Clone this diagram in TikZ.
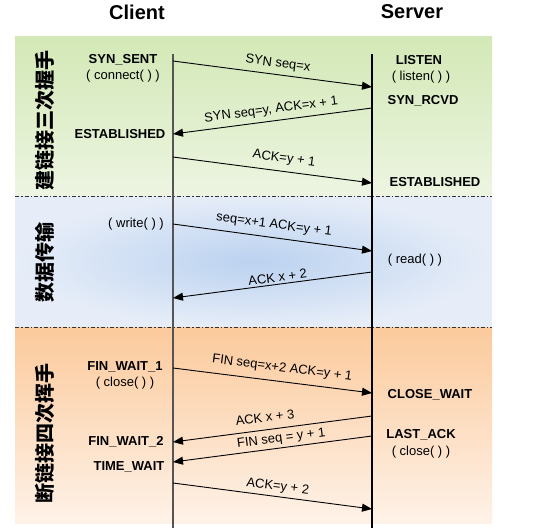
\documentclass[tikz,border=0pt]{standalone}
\usepackage{fontspec}
\setmainfont{Liberation Sans}
\newfontfamily\cjk{Noto Sans CJK SC}
\usetikzlibrary{arrows.meta}
\definecolor{grnA}{HTML}{D3E8B6}
\definecolor{grnB}{HTML}{EDF5E2}
\definecolor{bluA}{HTML}{BBD2F0}
\definecolor{bluB}{HTML}{E6EDF8}
\definecolor{orA}{HTML}{FBCA9C}
\definecolor{orB}{HTML}{FEF2E8}
\definecolor{lineC}{HTML}{555555}
\begin{document}
\begin{tikzpicture}[x=1pt,y=-1pt,
  headtxt/.style={font=\fontsize{20}{22}\selectfont\bfseries, inner sep=0pt},
  statetxt/.style={font=\fontsize{13}{15}\selectfont\bfseries, inner sep=0pt},
  calltxt/.style={font=\fontsize{13}{15}\selectfont, inner sep=0pt},
  msg/.style={draw=black, line width=0.9pt, -{Triangle[length=10pt,width=8pt]}},
  msglabel/.style={font=\fontsize{13}{15}\selectfont, anchor=base, inner sep=0pt},
  down/.style={rotate=-7.4},
  up/.style={rotate=7.4},
  phasetxt/.style={font=\fontsize{20}{22}\selectfont\cjk\bfseries, rotate=90, inner sep=0pt},
  sepline/.style={draw=black!80, line width=0.8pt, dash pattern=on 4pt off 2pt on 1.5pt off 2pt}]
\useasboundingbox (0,0) rectangle (542,528);

% bands
\shade[top color=grnA, bottom color=grnB] (15,36) rectangle (492,196);
\shade[inner color=bluA, outer color=bluB] (15,196) rectangle (492,327);
\shade[top color=orA, bottom color=orB] (15,327) rectangle (492,523);

% separators
\coordinate (d1L) at (15,196); \coordinate (d1R) at (492,196);
\coordinate (d2L) at (15,327); \coordinate (d2R) at (492,327);
\draw[sepline] (d1L) -- (d1R);
\draw[sepline] (d2L) -- (d2R);

% titles
\node[headtxt] (client) at (137,12) {Client};
\node[headtxt] (server) at (412,12) {Server};

% lifelines
\coordinate (cT) at (173,54); \coordinate (cB) at (173,528);
\coordinate (sT) at (372,54); \coordinate (sB) at (372,528);
\draw[lineC, line width=1.1pt] (cT) -- (cB);
\draw[black, line width=1.1pt] (sT) -- (sB);

% phase labels
\node[phasetxt] (ph1) at (45,120) {建链接三次握手};
\node[phasetxt] (ph2) at (45,262) {数据传输};
\node[phasetxt] (ph3) at (45,433) {断链接四次挥手};

% client states
\node[statetxt] (synsent) at (123,60) {SYN\_SENT};
\node[calltxt] (connect) at (123,76) {( connect( ) )};
\node[statetxt] (cestab) at (120,134) {ESTABLISHED};
\node[calltxt] (write) at (136,224) {( write( ) )};
\node[statetxt] (fw1) at (125,367) {FIN\_WAIT\_1};
\node[calltxt] (cclose) at (125,383) {( close( ) )};
\node[statetxt] (fw2) at (126,442) {FIN\_WAIT\_2};
\node[statetxt] (tw) at (129,467) {TIME\_WAIT};

% server states
\node[statetxt] (listen) at (419,60) {LISTEN};
\node[calltxt] (listenc) at (421,77) {( listen( ) )};
\node[statetxt] (synrcvd) at (423,101) {SYN\_RCVD};
\node[statetxt] (sestab) at (435,182) {ESTABLISHED};
\node[calltxt] (read) at (415,260) {( read( ) )};
\node[statetxt] (closewait) at (430,395) {CLOSE\_WAIT};
\node[statetxt] (lastack) at (421,435) {LAST\_ACK};
\node[calltxt] (sclose) at (421,452) {( close( ) )};

% message endpoints
\coordinate (c1) at (173,61);  \coordinate (s1) at (372,87);
\coordinate (s2) at (372,108); \coordinate (c2) at (173,134);
\coordinate (c3) at (173,157); \coordinate (s3) at (372,183);
\coordinate (c4) at (173,224); \coordinate (s4) at (372,251);
\coordinate (s5) at (372,272); \coordinate (c5) at (173,298);
\coordinate (c6) at (173,368); \coordinate (s6) at (372,393);
\coordinate (s7) at (372,416); \coordinate (c7) at (173,442);
\coordinate (s8) at (372,436); \coordinate (c8) at (173,462);
\coordinate (c9) at (173,483); \coordinate (s9) at (372,509);

% messages
\draw[msg] (c1) -- node[msglabel, down, yshift=7.6pt, pos=0.52] {SYN seq=x} (s1);
\draw[msg] (s2) -- node[msglabel, up, yshift=7.7pt, pos=0.5] {SYN seq=y, ACK=x + 1} (c2);
\draw[msg] (c3) -- node[msglabel, down, yshift=9.4pt, pos=0.55] {ACK=y + 1} (s3);
\draw[msg] (c4) -- node[msglabel, down, yshift=9.2pt, pos=0.5] {seq=x+1 ACK=y + 1} (s4);
\draw[msg] (s5) -- node[msglabel, up, yshift=2.6pt, pos=0.47] {ACK x + 2} (c5);
\draw[msg] (c6) -- node[msglabel, down, yshift=10pt, pos=0.54] {FIN seq=x+2 ACK=y + 1} (s6);
\draw[msg] (s7) -- node[msglabel, up, yshift=7.8pt, pos=0.53] {ACK x + 3} (c7);
\draw[msg] (s8) -- node[msglabel, up, yshift=5.8pt, pos=0.45] {FIN seq = y + 1} (c8);
\draw[msg] (c9) -- node[msglabel, down, yshift=6.4pt, pos=0.52] {ACK=y + 2} (s9);
\end{tikzpicture}
\end{document}
